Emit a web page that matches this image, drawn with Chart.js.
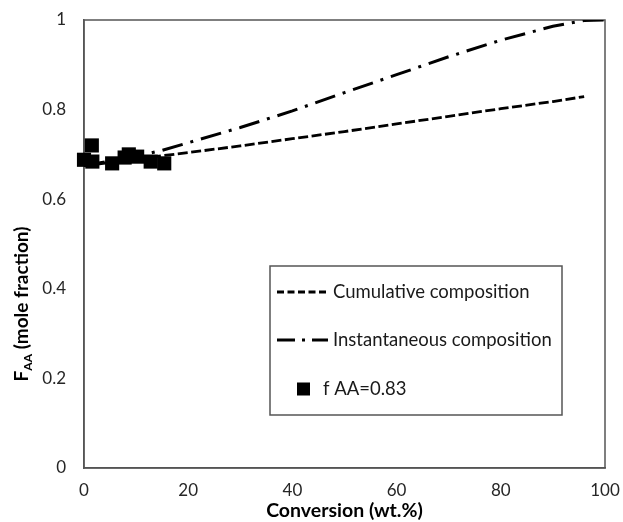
<!DOCTYPE html>
<html>
<head>
<meta charset="utf-8">
<script src="https://cdn.jsdelivr.net/npm/chart.js@4.4.1/dist/chart.umd.min.js"></script>
<style>
  body { margin: 0; background: #fff; }
  #wrap { width: 623px; height: 522px; }
</style>
</head>
<body>
<div id="wrap"><canvas id="faaChart" width="623" height="522"></canvas></div>
<script>
// measured copolymer composition, feed f_AA = 0.83
const measuredConv = [0, 1.5, 1.6, 5.4, 7.8, 8.6, 10.2, 12.8, 15.4];
const measuredFAA = [0.688, 0.72, 0.684, 0.68, 0.693, 0.70, 0.695, 0.684, 0.68];

// model: cumulative copolymer composition
const cumulativeConv = [0, 5, 10, 15, 20, 30, 40, 50, 60, 70, 80, 90, 96];
const cumulativeFAA = [0.675, 0.682, 0.69, 0.697, 0.704, 0.719, 0.735, 0.751, 0.768, 0.785, 0.802, 0.818, 0.829];

// model: instantaneous copolymer composition
const instantConv = [0, 5, 10, 15, 20, 30, 40, 50, 60, 70, 80, 90, 96, 100];
const instantFAA = [0.675, 0.685, 0.696, 0.709, 0.726, 0.760, 0.797, 0.838, 0.878, 0.918, 0.955, 0.986, 0.999, 1.0];

const xTicks = [0, 20, 40, 60, 80, 100];
const yTicks = [0, 0.2, 0.4, 0.6, 0.8, 1];

const toPoints = (xs, ys) => xs.map((x, i) => ({ x: x, y: ys[i] }));

const FONT = 'Lato, "Open Sans", sans-serif';
const AXIS_COLOR = '#555555';

// plot frame on all four sides
const frame = {
  id: 'frame',
  beforeDatasetsDraw(chart) {
    const a = chart.chartArea;
    const ctx = chart.ctx;
    ctx.save();
    ctx.strokeStyle = AXIS_COLOR;
    ctx.lineWidth = 1.5;
    ctx.strokeRect(a.left, a.top, a.right - a.left, a.bottom - a.top);
    ctx.restore();
  }
};

// y title with subscript AA
const yTitle = {
  id: 'yTitle',
  afterDraw(chart) {
    const ctx = chart.ctx;
    const parts = [
      { text: 'F', font: 'bold 19px ' + FONT, dy: 0 },
      { text: 'AA', font: 'bold 12px ' + FONT, dy: 4 },
      { text: ' (mole fraction)', font: 'bold 19px ' + FONT, dy: 0 }
    ];
    let total = 0;
    parts.forEach(p => { ctx.font = p.font; p.w = ctx.measureText(p.text).width; total += p.w; });
    ctx.save();
    ctx.translate(28, 304);
    ctx.rotate(-Math.PI / 2);
    ctx.fillStyle = '#000';
    ctx.textBaseline = 'alphabetic';
    let x = -total / 2;
    parts.forEach(p => {
      ctx.font = p.font;
      ctx.fillText(p.text, x, p.dy);
      x += p.w;
    });
    ctx.restore();
  }
};

// boxed legend inside the plot
const boxLegend = {
  id: 'boxLegend',
  afterDraw(chart) {
    const ctx = chart.ctx;
    const ds = chart.data.datasets;
    ctx.save();
    ctx.fillStyle = '#fff';
    ctx.fillRect(270, 266, 292, 149);
    ctx.strokeStyle = AXIS_COLOR;
    ctx.lineWidth = 1.5;
    ctx.strokeRect(270, 266, 292, 149);

    ctx.font = '18.5px ' + FONT;
    ctx.textBaseline = 'middle';
    const rows = [ds[1], ds[2], ds[0]];
    const rowY = [292, 340, 389];
    rows.forEach((d, i) => {
      const y = rowY[i];
      if (d.pointStyle === 'rect') {
        ctx.fillStyle = '#000';
        ctx.fillRect(297, y - 6.5, 13, 13);
        ctx.fillStyle = '#1a1a1a';
        ctx.fillText(d.label, 323, y);
      } else {
        ctx.strokeStyle = d.borderColor;
        ctx.lineWidth = d.borderWidth;
        ctx.setLineDash(d.legendDash);
        ctx.beginPath();
        ctx.moveTo(277, y);
        ctx.lineTo(328, y);
        ctx.stroke();
        ctx.setLineDash([]);
        ctx.fillStyle = '#1a1a1a';
        ctx.fillText(d.label, 333, y);
      }
    });
    ctx.restore();
  }
};

const config = {
  type: 'scatter',
  data: {
    datasets: [
      {
        label: 'f AA=0.83',
        data: toPoints(measuredConv, measuredFAA),
        pointStyle: 'rect',
        pointRadius: 10,
        backgroundColor: '#000',
        borderColor: '#000',
        borderWidth: 0,
        clip: false
      },
      {
        type: 'line',
        label: 'Cumulative composition',
        data: toPoints(cumulativeConv, cumulativeFAA),
        borderColor: '#000',
        borderWidth: 2.8,
        borderDash: [10, 3.5],
        legendDash: [7, 3.5],
        pointRadius: 0,
        fill: false
      },
      {
        type: 'line',
        label: 'Instantaneous composition',
        data: toPoints(instantConv, instantFAA),
        borderColor: '#000',
        borderWidth: 3,
        borderDash: [21, 8, 3, 8],
        legendDash: [18, 7, 3, 7],
        pointRadius: 0,
        fill: false
      }
    ]
  },
  options: {
    responsive: false,
    animation: false,
    layout: { padding: { left: 0, top: 20, right: 18, bottom: 0 } },
    plugins: {
      legend: { display: false },
      tooltip: { enabled: false }
    },
    scales: {
      x: {
        type: 'linear',
        min: 0,
        max: 100,
        afterBuildTicks: axis => { axis.ticks = xTicks.map(v => ({ value: v })); },
        afterFit: scale => {
          scale.height = 54;
          scale.paddingLeft = 0;
          scale.paddingRight = 0;
        },
        grid: { display: false, drawTicks: false },
        border: { display: true, color: AXIS_COLOR, width: 1.5 },
        ticks: { padding: 12, color: '#262626', font: { family: FONT, size: 17 } },
        title: {
          display: true,
          text: 'Conversion (wt.%)',
          color: '#000',
          padding: { top: 0, bottom: 0 },
          font: { family: FONT, size: 19.5, weight: 'bold' }
        }
      },
      y: {
        min: 0,
        max: 1,
        afterBuildTicks: axis => { axis.ticks = yTicks.map(v => ({ value: v })); },
        afterFit: scale => {
          scale.width = 84;
          scale.paddingTop = 0;
          scale.paddingBottom = 0;
        },
        grid: { display: false, drawTicks: false },
        border: { display: true, color: AXIS_COLOR, width: 1.5 },
        ticks: {
          padding: 18,
          color: '#262626',
          font: { family: FONT, size: 17 },
          callback: v => String(v)
        }
      }
    }
  },
  plugins: [frame, yTitle, boxLegend]
};

const ctx = document.getElementById('faaChart').getContext('2d');
new Chart(ctx, config);
</script>
</body>
</html>
